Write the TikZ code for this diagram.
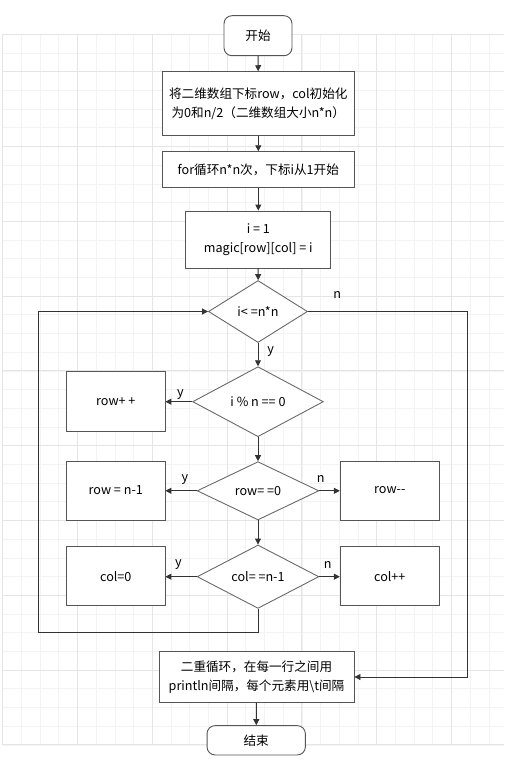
\documentclass[tikz,border=0pt]{standalone}
\usepackage{fontspec}
\setmainfont{Noto Sans CJK SC}
\usetikzlibrary{arrows.meta,positioning,shapes.geometric}
\definecolor{cLine} {HTML}{333333}
\definecolor{cShape}{HTML}{555555}
\definecolor{cDec}  {HTML}{6A6A6A}
\definecolor{cGrMin}{HTML}{F3F3F3}
\definecolor{cGrMaj}{HTML}{E5E5E5}
\tikzset{
  blk/.style  ={draw=cShape,fill=white,align=center,inner sep=0pt,
                line width=0.9pt,font=\fontsize{12.6}{19}\selectfont},
  term/.style ={blk,rounded corners=8pt},
  dec/.style  ={blk,diamond,draw=cDec},
  sig/.style  ={-{Triangle[length=6pt,width=6pt]},draw=cLine,line width=0.9pt},
  lbl/.style  ={font=\fontsize{12.6}{14}\selectfont,inner sep=0pt},
  grmin/.style={draw=cGrMin,line width=0.8pt},
  grmaj/.style={draw=cGrMaj,line width=0.9pt},
}

\begin{document}
\begin{tikzpicture}[x=1pt,y=1pt]
\useasboundingbox[fill=white] (0,0) rectangle (504,-768);

% ===== background grid ====================================================
\begin{scope}
  \clip (0,-33) rectangle (504,-745.5);
  \foreach \i in {0,...,27}{\draw[grmin] (2.7+\i*18.7,-34.3) -- (2.7+\i*18.7,-744.9);}
  \foreach \j in {0,...,38}{\draw[grmin] (2.7,-34.3-\j*18.7) -- (510,-34.3-\j*18.7);}
  \foreach \i in {0,4,...,24}{\draw[grmaj] (2.7+\i*18.7,-34.3) -- (2.7+\i*18.7,-744.9);}
  \foreach \j in {2,6,...,34}{\draw[grmaj] (2.7,-34.3-\j*18.7) -- (510,-34.3-\j*18.7);}
  \draw[grmaj] (2.7,-34.3) -- (510,-34.3);
  \draw[grmaj] (2.7,-744.9) -- (510,-744.9);
\end{scope}

% ===== main column ========================================================
\node[term,minimum width=68pt,minimum height=40pt] (start) at (258,-35.7) {开始};
\node[blk,minimum width=192pt,minimum height=64pt] (init) at (258.3,-103.7)
  {将二维数组下标row，col初始化\\为0和n/2（二维数组大小n*n）};
\node[blk,minimum width=192pt,minimum height=36pt] (loop) at (258.3,-169.7)
  {for循环n*n次，下标i从1开始};
\node[blk,minimum width=145pt,minimum height=57pt] (assign) at (258.3,-239.5)
  {i = 1\\ magic[row][col] = i};
\draw[sig] (start) -- (init);
\draw[sig] (init) -- (loop);
\draw[sig] (loop) -- (assign);

% ===== decisions ==========================================================
\node[dec,minimum width=99pt,minimum height=62pt]    (d1) at (258,-311.5) {i< =n*n};
\node[dec,minimum width=130.7pt,minimum height=70pt] (d2) at (258,-401.7) {i \% n == 0};
\node[dec,minimum width=121.7pt,minimum height=58.3pt] (d3) at (258,-490.8) {row= =0};
\node[dec,minimum width=121.7pt,minimum height=58.7pt] (d4) at (258,-576.7) {col= =n-1};
\draw[sig] (assign) -- (d1);
\draw[sig] (d1) -- (d2);
\draw[sig] (d2) -- (d3);
\draw[sig] (d3) -- (d4);

% ===== side boxes =========================================================
\node[blk,minimum width=98.3pt,minimum height=59.3pt] (rowinc) at (115.8,-401.3) {row+ +};
\node[blk,minimum width=98.3pt,minimum height=59pt]   (rowset) at (115.8,-490.5) {row = n-1};
\node[blk,minimum width=99pt,minimum height=59pt]     (rowdec) at (389.8,-490.5) {row-{}-};
\node[blk,minimum width=98.3pt,minimum height=59pt]   (colset) at (115.8,-576.2) {col=0};
\node[blk,minimum width=99pt,minimum height=59pt]     (colinc) at (389.8,-576.2) {col++};
\draw[sig] (d2.west) -- (d2.west -| rowinc.east);
\draw[sig] (d3.west) -- (d3.west -| rowset.east);
\draw[sig] (d3.east) -- (d3.east -| rowdec.west);
\draw[sig] (d4.west) -- (d4.west -| colset.east);
\draw[sig] (d4.east) -- (d4.east -| colinc.west);

% ===== output and end =====================================================
\node[blk,minimum width=195pt,minimum height=50.7pt] (out) at (256.5,-677)
  {二重循环，在每一行之间用\\println间隔，每个元素用\textbackslash t间隔};
\node[term,minimum width=98.3pt,minimum height=29.3pt] (stop) at (256.2,-740.3) {结束};
\draw[sig] (out) -- (stop);

% ===== loop back and exit =================================================
\coordinate (lpL) at (38.3,-632.7);
\coordinate (exR) at (467.7,-311.5);
\draw[sig] (d4.south) |- (lpL) |- (d1.west);
\draw[sig] (d1.east) -- (exR) |- (out.east);

% ===== branch labels ======================================================
\node[lbl] (l1n) at (337.3,-295)   {n};
\node[lbl] (l1y) at (270.7,-351.7) {y};
\node[lbl] (l2y) at (180.3,-394.3) {y};
\node[lbl] (l3y) at (185,-479.3)   {y};
\node[lbl] (l3n) at (320.7,-479.3) {n};
\node[lbl] (l4y) at (178.3,-565)   {y};
\node[lbl] (l4n) at (327.7,-565)   {n};
\end{tikzpicture}
\end{document}
